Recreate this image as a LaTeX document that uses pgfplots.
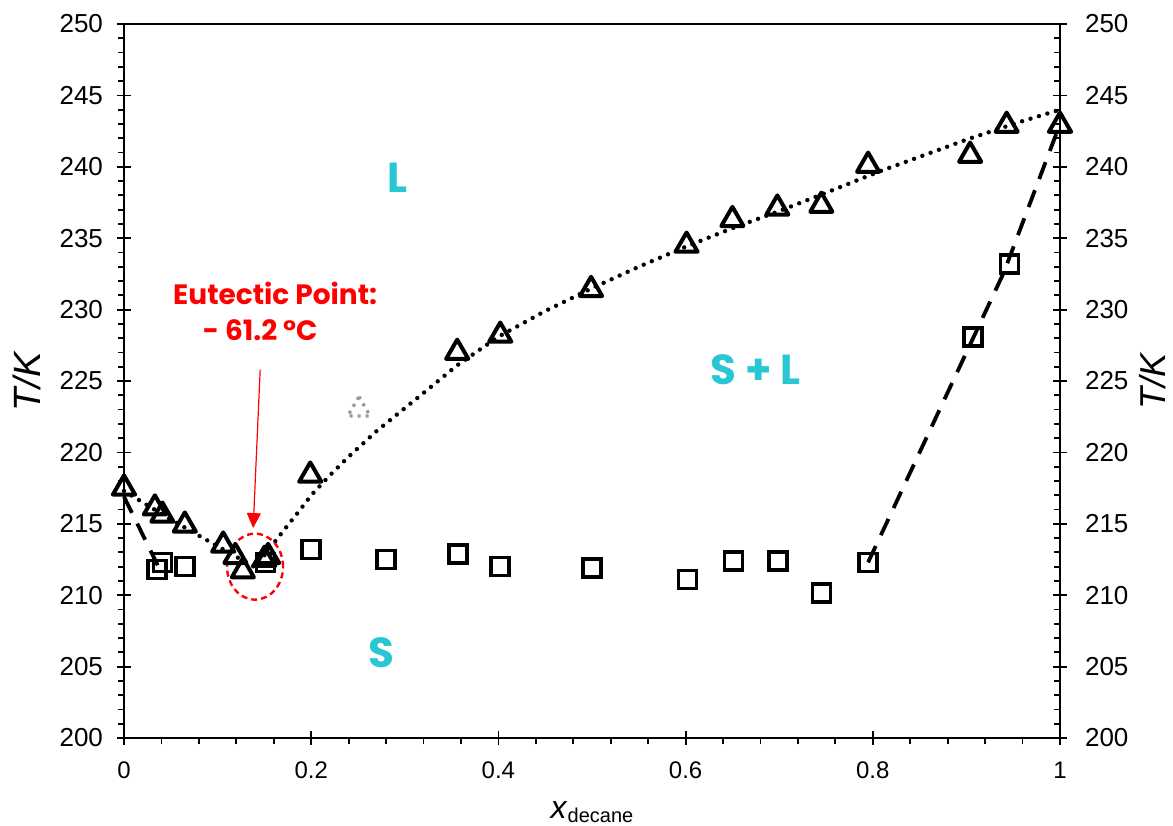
\documentclass[border=0pt]{standalone}
\usepackage{fontspec}
\setmainfont{Liberation Sans}
\newfontfamily\pop{Poppins}
\usepackage{pgfplots}
\pgfplotsset{compat=1.18}
\usetikzlibrary{arrows.meta}
\definecolor{cy}{RGB}{41,199,212}
\begin{document}
\begin{tikzpicture}
\path[use as bounding box] (-62pt,-43.5pt) rectangle (524.5pt,369pt);
\begin{axis}[
  at={(0,0)}, anchor=south west,
  scale only axis, width=468pt, height=357pt,
  xmin=0, xmax=1, ymin=200, ymax=250,
  clip=false,
  xtick={0,0.2,0.4,0.6,0.8,1}, xticklabels={0,0.2,0.4,0.6,0.8,1},
  minor x tick num=4,
  ytick={200,205,...,250}, minor y tick num=4,
  xtick pos=bottom, ytick pos=both,
  tick align=center,
  major tick length=7pt, minor tick length=3pt,
  every tick/.append style={black, line width=0.9pt},
  minor x tick style={yshift=-1.5pt},
  minor y tick style={xshift=-1.5pt},
  axis line style={line width=1pt},
  /pgf/number format/assume math mode=true,
  yticklabel style={font=\fontsize{13}{13}\selectfont, xshift=-3.5pt},
  xticklabel style={font=\fontsize{12}{12}\selectfont, yshift=-5pt},
  ylabel={\fontsize{19}{19}\selectfont\textit{T/K}},
  ylabel style={at={(axis description cs:0,0.5)}, anchor=center, yshift=48.5pt},
  xlabel={{\fontsize{16}{16}\selectfont\textit{x}}\raisebox{-0.35ex}{\fontsize{10}{10}\selectfont decane}},
  xlabel style={at={(axis description cs:0.5,0)}, anchor=center, yshift=-37pt},
]
% liquidus model (dotted)
\addplot[black, line width=2.2pt, line cap=round, dash pattern=on 0pt off 4.4pt] coordinates {
(0,217.3) (0.05,215.3) (0.09,213.8) (0.14,211.95) (0.163,213.9) (0.175,214.9) (0.186,215.8)
(0.2,217.0) (0.22,218.4) (0.24,219.7) (0.27,221.5) (0.3,223.1) (0.317,224.0)
(0.356,226.1) (0.4,228.1) (0.45,229.9) (0.5,231.5) (0.55,233.0) (0.6,234.4)
(0.65,235.7) (0.7,236.9) (0.743,238.0) (0.808,239.7) (0.85,240.7) (0.9,241.9)
(0.955,243.1) (1.0,244.0)};
% solidus (dashed)
\addplot[black, line width=1.9pt, dash pattern=on 9pt off 6pt] coordinates {(0,216.9) (0.036,212.1)};
\addplot[black, line width=1.9pt, dash pattern=on 9pt off 6pt] coordinates {(0.795,212.3) (0.94,232.6) (1.0,243.0)};
% squares
\addplot[only marks, mark=square, mark size=4.5pt, mark options={black, line width=1.8pt, fill=none, solid}] coordinates {
(0.035,211.8) (0.041,212.3) (0.065,212.0) (0.151,212.3) (0.2,213.2) (0.28,212.5)
(0.357,212.9) (0.402,212.0) (0.5,211.9) (0.602,211.1) (0.651,212.4) (0.699,212.4)
(0.745,210.15) (0.795,212.3) (0.907,228.1) (0.946,233.2)};
% triangles
\addplot[only marks, mark=triangle, mark size=6.4pt, mark options={black, line width=2pt, line join=round, fill=none, solid}] coordinates {
(0,217.5) (0.033,216.1) (0.041,215.6) (0.065,214.9) (0.106,213.5) (0.119,212.7)
(0.127,211.7) (0.150,212.5) (0.154,212.7) (0.199,218.4) (0.356,227.0) (0.402,228.2)
(0.499,231.4) (0.601,234.5) (0.650,236.3) (0.698,237.1) (0.745,237.3) (0.795,240.1)
(0.904,240.8) (0.943,242.9) (1.0,242.9)};
% stray grey dotted triangle
\addplot[only marks, mark=triangle, mark size=6.5pt, mark options={gray!80, line width=1.6pt, dash pattern=on 1.5pt off 2.5pt, fill=none}] coordinates {(0.251,223.0)};
% annotations
\node[text=cy, font=\pop\bfseries\fontsize{21}{21}\selectfont] at (axis cs:0.292,239.2) {L};
\node[text=cy, font=\pop\bfseries\fontsize{21}{21}\selectfont] at (axis cs:0.675,225.8) {S + L};
\node[text=cy, font=\pop\bfseries\fontsize{21}{21}\selectfont] at (axis cs:0.275,205.95) {S};
\node[text=red, font=\pop\bfseries\fontsize{14}{14}\selectfont] at (axis cs:0.1615,231.16) {Eutectic Point:};
\node[text=red, font=\pop\bfseries\fontsize{14}{14}\selectfont] at (axis cs:0.1455,228.57) {- 61.2 °C};
\draw[red, line width=0.6pt, -{Triangle[length=7.5pt,width=7pt]}] (axis cs:0.1455,225.8) -- (axis cs:0.138,214.7);
\draw[red, line width=1.2pt, dash pattern=on 3pt off 2pt] (axis cs:0.14,212.0) ellipse [x radius=14pt, y radius=16.5pt];
\end{axis}
\begin{axis}[
  at={(0,0)}, anchor=south west,
  scale only axis, width=468pt, height=357pt,
  xmin=0, xmax=1, ymin=200, ymax=250,
  hide x axis, axis y line*=right,
  y axis line style={draw=none},
  ytick={200,205,...,250}, ytick style={draw=none}, major tick length=0pt,
  /pgf/number format/assume math mode=true,
  yticklabel style={font=\fontsize{13}{13}\selectfont, xshift=9pt},
  ylabel={\fontsize{18}{18}\selectfont\textit{T/K}},
  ylabel style={at={(axis description cs:1,0.5)}, anchor=center, yshift=-46.5pt},
]
\end{axis}
\end{tikzpicture}
\end{document}
